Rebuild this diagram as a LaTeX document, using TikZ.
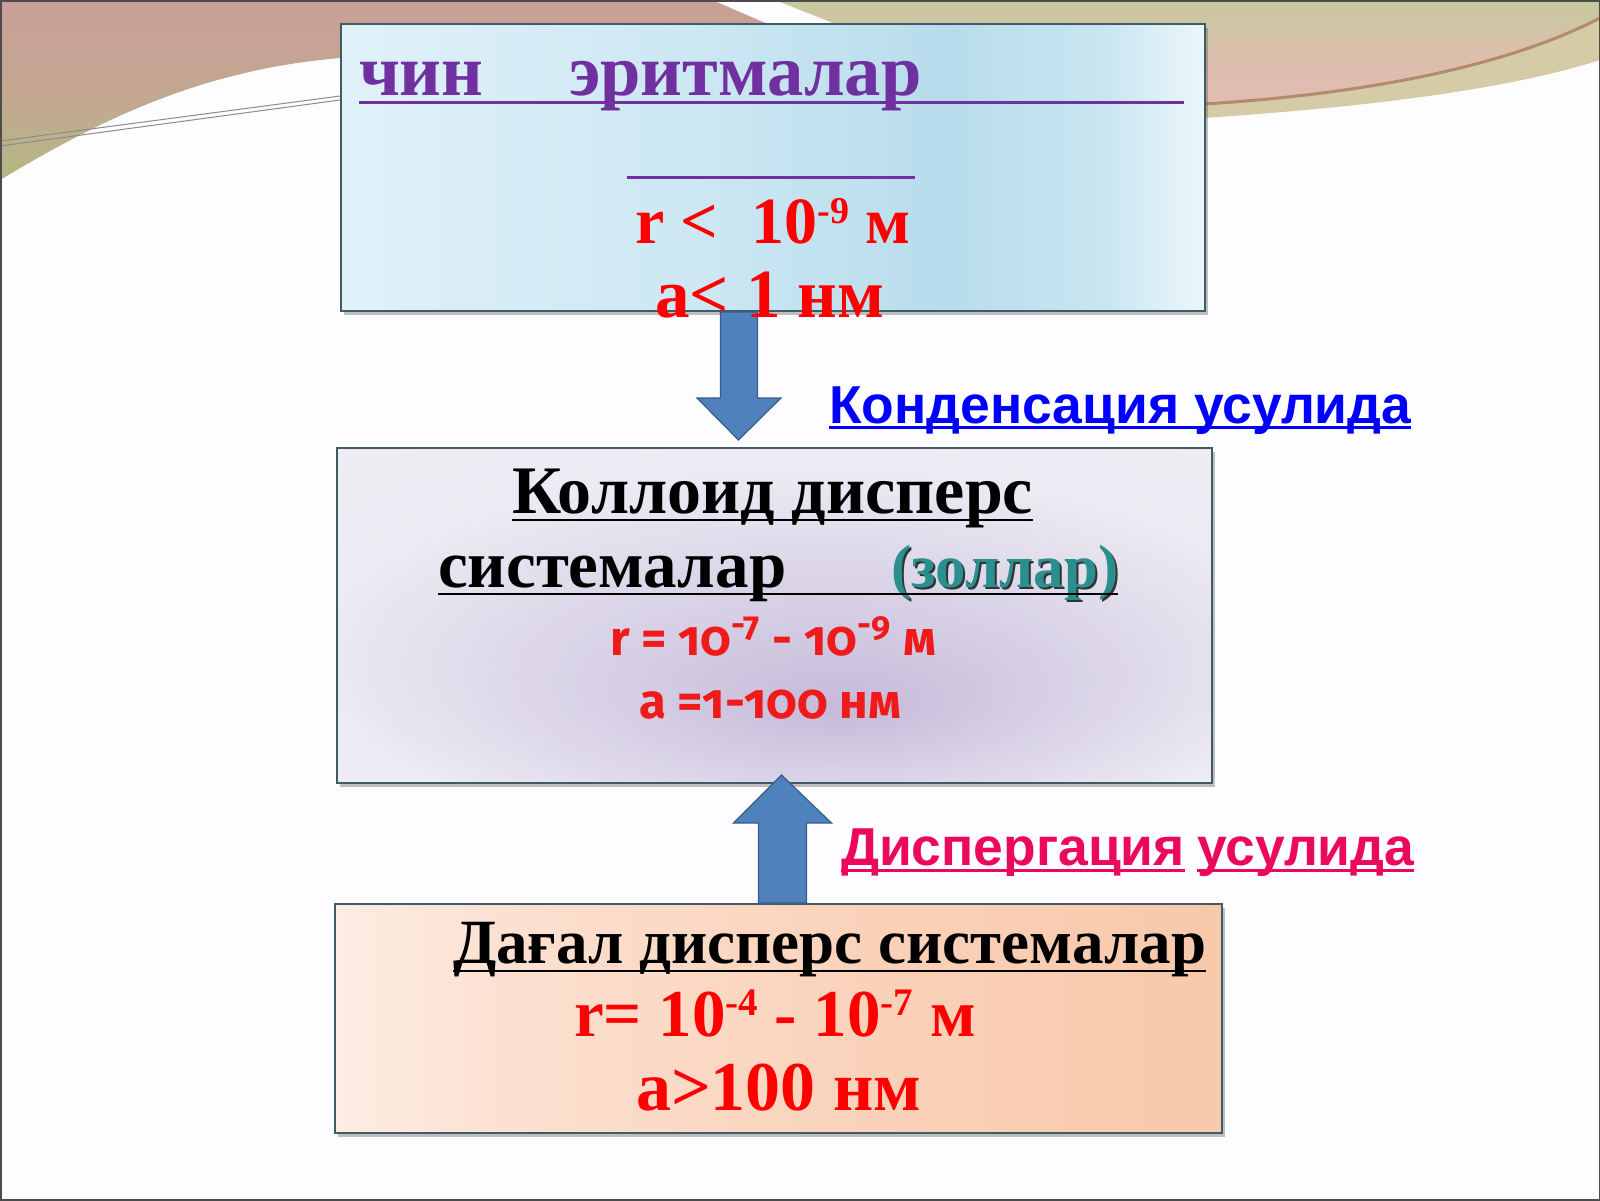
\documentclass[tikz,border=0pt]{standalone}
\usepackage{fontspec}
\setmainfont{Liberation Serif}
\newfontfamily\sansfnt{Liberation Sans}
\newfontfamily\oldfnt[Numbers=OldStyle]{Fira Sans}
\usetikzlibrary{calc,shadows}

\definecolor{purp}{HTML}{7030A0}
\definecolor{redt}{HTML}{FF0000}
\definecolor{redb}{HTML}{F01A1A}
\definecolor{bluel}{HTML}{0000FF}
\definecolor{pinkl}{HTML}{EB0A5A}
\definecolor{tealz}{HTML}{2A8F8F}
\definecolor{arrowfill}{HTML}{4F81BD}
\definecolor{arrowline}{HTML}{385D8A}
\definecolor{bgw}{HTML}{FDFCFE}
\definecolor{pinkbg}{HTML}{CA9F97}
\definecolor{olivebg}{HTML}{B4B883}
\definecolor{greenbg}{HTML}{C6C99E}
\definecolor{pinkbg2}{HTML}{E3BBB2}
\definecolor{brownln}{HTML}{B48A6C}
\definecolor{tanband}{HTML}{D5CBA6}
\definecolor{boxedge}{HTML}{3E5B66}

\definecolor{bA}{HTML}{E0F1F9}
\definecolor{bB}{HTML}{CDE8F3}
\definecolor{bC}{HTML}{B8DCEC}
\definecolor{bD}{HTML}{C8E5F1}
\definecolor{bE}{HTML}{ECF7FB}
\pgfdeclarehorizontalshading{bluebox}{100bp}{color(0bp)=(bA); color(25bp)=(bA); color(45bp)=(bB); color(60bp)=(bC); color(69bp)=(bD); color(75bp)=(bE); color(100bp)=(bE)}

\definecolor{pA}{HTML}{FDEDE4}
\definecolor{pB}{HTML}{FCE0D0}
\definecolor{pC}{HTML}{FAD2BA}
\definecolor{pD}{HTML}{F8C8AA}
\pgfdeclarehorizontalshading{peachbox}{100bp}{color(0bp)=(pA); color(25bp)=(pA); color(35bp)=(pB); color(55bp)=(pC); color(75bp)=(pD); color(100bp)=(pD)}

\definecolor{lA}{HTML}{C5BAD9}
\definecolor{lB}{HTML}{D6CFE5}
\definecolor{lC}{HTML}{ECEAF2}
\definecolor{lD}{HTML}{F2F1F6}
\pgfdeclareradialshading{lavbox}{\pgfpoint{4bp}{-14bp}}{color(0bp)=(lA); color(12bp)=(lB); color(28bp)=(lC); color(50bp)=(lD)}

\newcommand{\supr}[2]{\raisebox{0.3em}{\fontsize{#1}{#1}\selectfont #2}}

\tikzset{
  txt/.style={inner sep=0pt, outer sep=0pt, anchor=base west},
  boxbase/.style={draw=boxedge, line width=1pt, inner sep=0pt, anchor=north west,
    drop shadow={shadow xshift=1.5pt, shadow yshift=-2pt, opacity=0.35, fill=black!70}},
  barrow/.style={fill=arrowfill, draw=arrowline, line width=0.6pt, line join=miter},
  uline/.style={line width=#1},
}

\begin{document}
\begin{tikzpicture}[x=0.5pt,y=-0.5pt]
\useasboundingbox (0,0) rectangle (1600,1200);
\fill[bgw] (0,0) rectangle (1600,1200);

% top decoration
\shade[top color=pinkbg, bottom color=olivebg, middle color=pinkbg!70!olivebg]
  (0,0) -- (712,0) -- (770,25) -- (770,58) -- (340,58)
  .. controls (200,70) and (100,120) .. (0,180) -- cycle;
\shade[top color=greenbg, bottom color=pinkbg2, middle color=pinkbg2!70!greenbg]
  (775,0) -- (1600,0) -- (1600,18) .. controls (1500,70) and (1350,95) .. (1204,104)
  -- (1204,25) -- (838,25) -- cycle;
\fill[tanband] (1204,104) .. controls (1350,95) and (1500,70) .. (1600,18)
  -- (1600,60) .. controls (1500,92) and (1350,108) .. (1204,118) -- cycle;
\draw[brownln, line width=1.5pt] (1204,104) .. controls (1350,95) and (1500,70) .. (1600,18);
\draw[black!45, line width=0.5pt] (0,141) -- (340,96);
\draw[black!45, line width=0.5pt] (0,146) -- (340,100);
\draw[black!70, line width=1pt] (0.5,0.5) rectangle (1599.5,1199.5);

% boxes
\node[boxbase, shading=bluebox, minimum width=432pt, minimum height=143.5pt] (b1) at (340,23) {};
\node[boxbase, shading=lavbox, minimum width=437.5pt, minimum height=167.5pt] (b2) at (336,447) {};
\node[boxbase, shading=peachbox, minimum width=443.5pt, minimum height=114.5pt] (b3) at (334,903) {};

% arrows
\path (b1.south) ++(-34,0) coordinate (d1top);
\path (b2.north) ++(-36,-7) coordinate (d1tip);
\draw[barrow] let \p1=(d1top), \p2=(d1tip) in
  (\x1-9.25pt,\y1) -- (\x1+9.25pt,\y1) -- (\x1+9.25pt,\y2+21pt) -- (\x1+21pt,\y2+21pt)
  -- (\x2,\y2) -- (\x1-21pt,\y2+21pt) -- (\x1-9.25pt,\y2+21pt) -- cycle;
\path (b3.north) ++(4,0) coordinate (u1bot);
\path (b2.south) ++(7,-9) coordinate (u1tip);
\draw[barrow] let \p1=(u1bot), \p2=(u1tip) in
  (\x1-12pt,\y1) -- (\x1+12pt,\y1) -- (\x1+12pt,\y2-24pt) -- (\x1+24.5pt,\y2-24pt)
  -- (\x2,\y2) -- (\x1-24.5pt,\y2-24pt) -- (\x1-12pt,\y2-24pt) -- cycle;

% box 1 texts
\node[txt, text=purp, font=\fontsize{36.3}{40}\selectfont\bfseries] (t1a) at (359,95) {чин};
\node[txt, text=purp, font=\fontsize{36.3}{40}\selectfont\bfseries] (t1b) at (569,95) {эритмалар};
\draw[purp, uline=1.5pt] (t1a.base west) ++(0,7) -- (1184,102);
\draw[purp, uline=1.5pt] (627,177) -- (915,177);
\node[txt, text=redt, font=\fontsize{33}{36}\selectfont\bfseries] (t1c) at (635,243) {r <\ \ 10\supr{19}{-9} м};
\node[txt, text=redt, font=\fontsize{34.5}{38}\selectfont\bfseries] (t1d) at (655,317) {a< 1 нм};

% box 2 texts
\node[txt, font=\fontsize{34}{37}\selectfont\bfseries] (t2a) at (512,513) {Коллоид дисперс};
\draw[uline=1.2pt] ($(t2a.base west)+(0,7)$) -- ($(t2a.base east)+(0,7)$);
\node[txt, font=\fontsize{33.5}{36}\selectfont\bfseries] (t2b) at (438,587) {системалар};
\node[txt, text=black!80, font=\fontsize{30.5}{34}\selectfont\bfseries] (t2cs) at (893,589) {(золлар)};
\node[txt, text=tealz, font=\fontsize{30.5}{34}\selectfont\bfseries] (t2c) at (891,587) {(золлар)};
\draw[uline=1.2pt] ($(t2b.base west)+(0,7)$) -- ($(t2c.base east)+(0,7)$);
\node[txt, text=redb, font=\oldfnt\fontsize{24.5}{28}\selectfont\bfseries] (t2d) at (610,655) {r = 10\textsuperscript{-7} - 10\textsuperscript{-9} м};
\node[txt, text=redb, font=\oldfnt\fontsize{24.5}{28}\selectfont\bfseries] (t2e) at (639,718) {a =1-100 нм};

% box 3 texts
\node[txt, font=\fontsize{31.5}{34}\selectfont\bfseries] (t3a) at (453,963) {Дағал дисперс системалар};
\draw[uline=1.2pt] ($(t3a.base west)+(0,8)$) -- ($(t3a.base east)+(0,8)$);
\node[txt, text=redt, font=\fontsize{33.5}{36}\selectfont\bfseries] (t3b) at (574,1036) {r= 10\supr{19.5}{-4} - 10\supr{19.5}{-7} м};
\node[txt, text=redt, font=\fontsize{35}{38}\selectfont\bfseries] (t3c) at (636,1110) {a>100 нм};

% side labels
\node[txt, text=bluel, font=\sansfnt\fontsize{26.7}{30}\selectfont\bfseries] (l1) at (829,423) {Конденсация усулида};
\draw[bluel, uline=1.5pt] ($(l1.base west)+(0,4)$) -- ($(l1.base east)+(0,4)$);
\node[txt, text=pinkl, font=\sansfnt\fontsize{26.7}{30}\selectfont\bfseries] (l2a) at (841,865) {Диспергация};
\node[txt, text=pinkl, font=\sansfnt\fontsize{26.7}{30}\selectfont\bfseries] (l2b) at (1197,865) {усулида};
\draw[pinkl, uline=1.5pt] ($(l2a.base west)+(0,5)$) -- ($(l2a.base east)+(0,5)$);
\draw[pinkl, uline=1.5pt] ($(l2b.base west)+(0,5)$) -- ($(l2b.base east)+(0,5)$);
\end{tikzpicture}
\end{document}
